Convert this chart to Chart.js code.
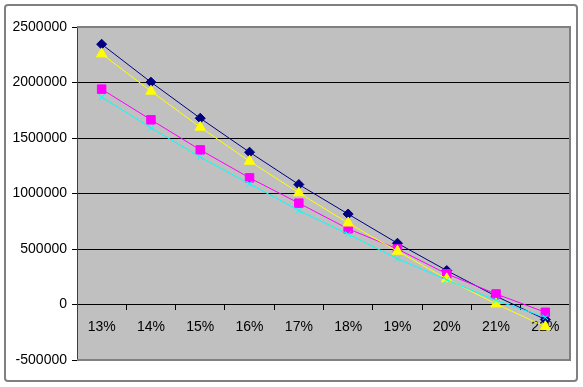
<!DOCTYPE html>
<html>
<head>
<meta charset="utf-8">
<script src="https://cdn.jsdelivr.net/npm/chart.js@4"></script>
<style>
  html, body { margin: 0; padding: 0; background: #fff; }
  #wrap { width: 583px; height: 387px; }
</style>
</head>
<body>
<div id="wrap"><canvas id="chart" width="583" height="387"></canvas></div>
<script>
// categories
var rates = ['13%', '14%', '15%', '16%', '17%', '18%', '19%', '20%', '21%', '22%'];
// series
var navy    = [2345000, 2003000, 1678000, 1372000, 1081000, 815000, 552000, 306000, 75000, -135000];
var magenta = [1940000, 1664000, 1393000, 1141000, 913000, 682000, 500000, 276000, 95000, -70000];
var yellow  = [2258000, 1922000, 1597000, 1291000, 1006000, 734000, 480000, 231000, 5000, -200000];
var cyan    = [1868000, 1592000, 1327000, 1087000, 847000, 634000, 412000, 222000, 36000, -115000];

var yMin = -500000, yMax = 2500000, yStep = 500000;

// plot background + frame
var plotBg = {
  id: 'plotBg',
  beforeDraw: function(chart) {
    var c = chart.ctx, a = chart.chartArea;
    c.save();
    c.fillStyle = '#fff';
    c.fillRect(0, 0, chart.width, chart.height);
    c.fillStyle = '#c0c0c0';
    c.fillRect(a.left, a.top, a.right - a.left, a.bottom - a.top);
    c.restore();
  },
  beforeDatasetsDraw: function(chart) {
    var c = chart.ctx, a = chart.chartArea;
    c.save();
    c.strokeStyle = '#808080';
    c.lineWidth = 2;
    c.beginPath();
    c.moveTo(a.left, a.top);
    c.lineTo(a.right, a.top);
    c.lineTo(a.right, a.bottom);
    c.lineTo(a.left, a.bottom);
    c.stroke();
    c.restore();
  },
  afterDraw: function(chart) {
    var c = chart.ctx;
    c.save();
    c.strokeStyle = '#808080';
    c.lineWidth = 2;
    c.beginPath();
    c.roundRect(5, 5, 572, 376, 3);
    c.stroke();
    c.restore();
  }
};

// later series sit on top, like the original
function ds(label, data, color, style, r, order) {
  return {
    label: label,
    data: data,
    order: order,
    borderColor: color,
    backgroundColor: color,
    pointBorderColor: color,
    pointBackgroundColor: color,
    pointStyle: style,
    pointRadius: r,
    pointBorderWidth: 1,
    borderWidth: 1,
    tension: 0
  };
}

new Chart(document.getElementById('chart'), {
  type: 'line',
  data: {
    labels: rates,
    datasets: [
      ds('s1', navy, '#000080', 'rectRot', 5, 3),
      ds('s2', magenta, '#ff00ff', 'rect', 6, 2),
      ds('s3', yellow, '#ffff00', 'triangle', 6, 1),
      ds('s4', cyan, '#00ffff', 'crossRot', 4, 0)
    ]
  },
  options: {
    responsive: false,
    animation: false,
    layout: { padding: { top: 27, right: 13, bottom: 27, left: 0 } },
    plugins: { legend: { display: false }, tooltip: { enabled: false } },
    scales: {
      x: {
        position: { y: 0 },
        offset: true,
        grid: { drawOnChartArea: false, drawTicks: true, tickLength: 5, offset: true, color: '#000' },
        border: { color: '#000', width: 1 },
        ticks: { color: '#000', padding: 9, font: { family: 'Liberation Sans, Arial', size: 14 }, maxRotation: 0 }
      },
      y: {
        min: yMin,
        max: yMax,
        afterFit: function(s) { s.width = 77; },
        grid: { color: '#000', tickLength: 5, drawTicks: true },
        border: { color: '#404040', width: 1 },
        ticks: {
          stepSize: yStep,
          color: '#000',
          padding: 5,
          font: { family: 'Liberation Sans, Arial', size: 14 },
          callback: function(v) { return String(v); }
        }
      }
    }
  },
  plugins: [plotBg]
});
</script>
</body>
</html>
